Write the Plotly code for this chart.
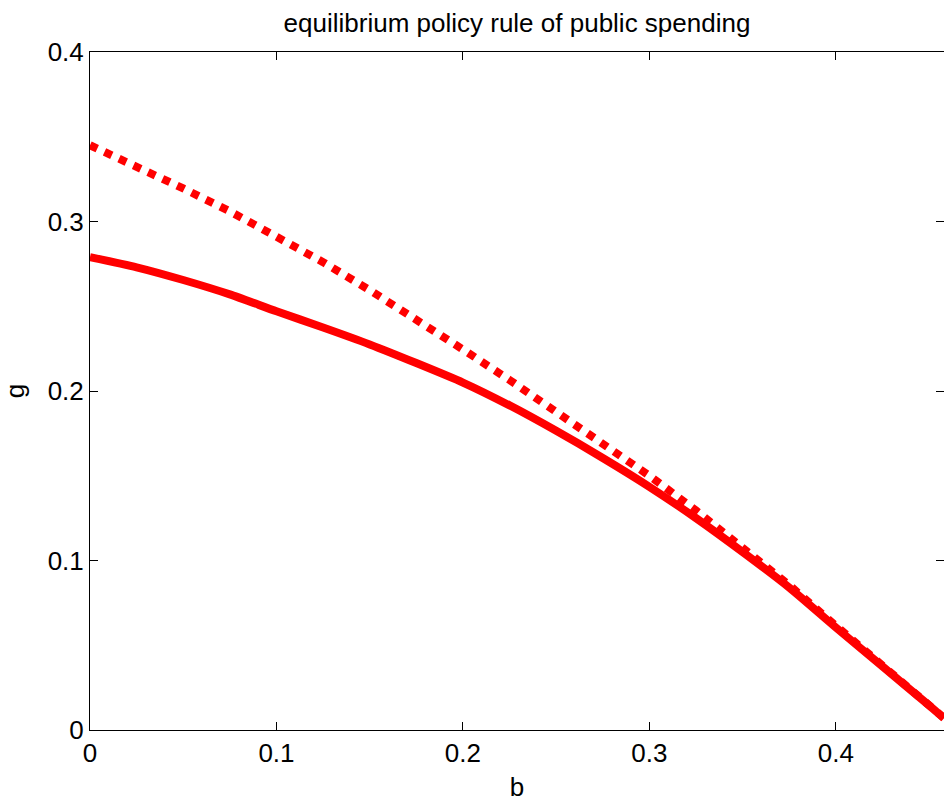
import plotly.graph_objects as go

# public debt level b
b_grid = [0.0, 0.025, 0.05, 0.075, 0.1, 0.125, 0.15, 0.175, 0.2, 0.225,
          0.25, 0.275, 0.3, 0.325, 0.35, 0.375, 0.4, 0.425, 0.45, 0.458]

# equilibrium public spending g(b)
g_equilibrium = [0.279, 0.273, 0.2655, 0.257, 0.247, 0.2375, 0.2275, 0.2165,
                 0.205, 0.1915, 0.1765, 0.1605, 0.1435, 0.125, 0.105, 0.084,
                 0.0605, 0.0375, 0.0145, 0.007]

# comparison rule (dotted)
g_comparison = [0.345, 0.3325, 0.3195, 0.306, 0.2915, 0.276, 0.2595, 0.2425,
                0.2245, 0.2065, 0.188, 0.169, 0.150, 0.1295, 0.108, 0.0855,
                0.0615, 0.038, 0.0148, 0.0071]

x_ticks = [0, 0.1, 0.2, 0.3, 0.4]
y_ticks = [0, 0.1, 0.2, 0.3, 0.4]
tick_text = ["0", "0.1", "0.2", "0.3", "0.4"]

FONT = "Liberation Sans, Arial, sans-serif"
FSIZE = 26

fig = go.Figure()
fig.add_trace(go.Scatter(x=b_grid, y=g_comparison, mode="lines",
                         line=dict(color="#ff0000", width=8, dash="dot"),
                         showlegend=False))
fig.add_trace(go.Scatter(x=b_grid, y=g_equilibrium, mode="lines",
                         line=dict(color="#ff0000", width=8, shape="spline",
                                   smoothing=0.6),
                         showlegend=False))

axis_common = dict(showgrid=False, zeroline=False, showline=True,
                   linecolor="black", linewidth=1, mirror="ticks",
                   ticks="inside", ticklen=8, tickcolor="black",
                   tickfont=dict(family=FONT, size=FSIZE, color="black"))

fig.update_layout(
    width=944, height=805,
    margin=dict(l=90, r=0, t=52, b=75),
    paper_bgcolor="white", plot_bgcolor="white",
    title=dict(text="equilibrium policy rule of public spending",
               x=0.5, xref="paper", y=1, yref="paper", yanchor="bottom",
               pad=dict(b=20),
               font=dict(family=FONT, size=FSIZE, color="black")),
    xaxis=dict(range=[0, 0.458], tickvals=x_ticks, ticktext=tick_text,
               title=dict(text="b", standoff=10,
                          font=dict(family=FONT, size=FSIZE, color="black")),
               **axis_common),
    yaxis=dict(range=[0, 0.4], tickvals=y_ticks, ticktext=tick_text,
               title=dict(text="g", standoff=16,
                          font=dict(family=FONT, size=FSIZE, color="black")),
               **axis_common),
)

fig.write_html("out.html")
